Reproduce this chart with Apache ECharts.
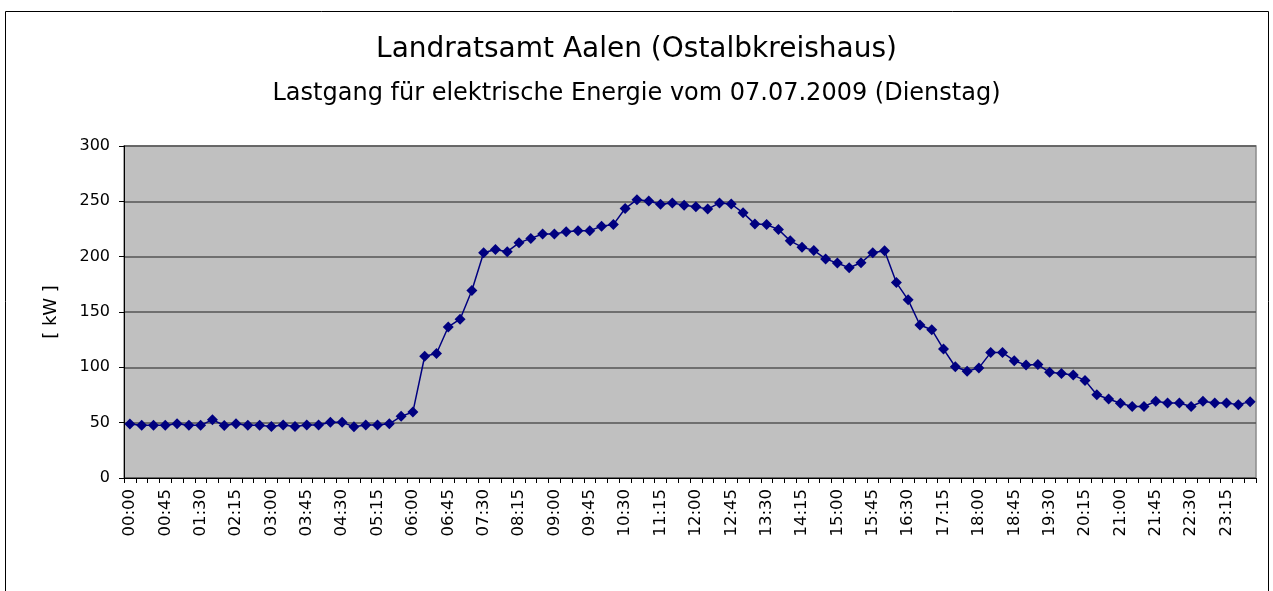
<!DOCTYPE html>
<html>
<head>
<meta charset="utf-8">
<script src="https://cdn.jsdelivr.net/npm/echarts@6/dist/echarts.min.js"></script>
<style>
  html, body { margin: 0; padding: 0; background: #fff; }
  #chart { width: 1273px; height: 591px; }
</style>
</head>
<body>
<div id="chart"></div>
<script>
// 15-min intervals, 07.07.2009
var times = [
  '00:00','00:15','00:30','00:45','01:00','01:15','01:30','01:45',
  '02:00','02:15','02:30','02:45','03:00','03:15','03:30','03:45',
  '04:00','04:15','04:30','04:45','05:00','05:15','05:30','05:45',
  '06:00','06:15','06:30','06:45','07:00','07:15','07:30','07:45',
  '08:00','08:15','08:30','08:45','09:00','09:15','09:30','09:45',
  '10:00','10:15','10:30','10:45','11:00','11:15','11:30','11:45',
  '12:00','12:15','12:30','12:45','13:00','13:15','13:30','13:45',
  '14:00','14:15','14:30','14:45','15:00','15:15','15:30','15:45',
  '16:00','16:15','16:30','16:45','17:00','17:15','17:30','17:45',
  '18:00','18:15','18:30','18:45','19:00','19:15','19:30','19:45',
  '20:00','20:15','20:30','20:45','21:00','21:15','21:30','21:45',
  '22:00','22:15','22:30','22:45','23:00','23:15','23:30','23:45'
];

// Leistung in kW
var kw = [
  48.8, 47.6, 47.6, 47.6, 49, 47.6, 47.6, 52.7, 47.4, 49, 47.6, 47.6,
  46.5, 47.8, 46.5, 47.8, 47.8, 50.3, 50.3, 46.3, 47.8, 47.8, 49, 55.7,
  59.7, 110, 112.5, 136.5, 143.5, 169.5, 203.5, 206.5, 204.5, 212.5, 216.5, 220.5,
  220.5, 222.5, 223.5, 223.5, 227.5, 229, 243.5, 251.5, 250.3, 247.3, 248.6, 246.4,
  245, 243, 248.6, 247.6, 239.6, 229.6, 229, 224.6, 214.3, 208.6, 205.6, 198,
  194.2, 190, 194.5, 203.6, 205.3, 176.6, 161, 138.3, 134, 116.5, 100.5, 96.5,
  99.5, 113.3, 113.3, 106, 102, 102.5, 95.5, 94.5, 93, 88.2, 75.2, 71.4,
  67.6, 64.6, 64.6, 69.3, 67.8, 67.8, 64.6, 69.3, 67.8, 67.8, 66.3, 69
];

var yTicks = [0, 50, 100, 150, 200, 250, 300];

var chart = echarts.init(document.getElementById('chart'), null, { renderer: 'canvas' });

var option = {
  backgroundColor: '#fff',
  animation: false,
  title: [{
    text: 'Landratsamt Aalen (Ostalbkreishaus)',
    left: 'center',
    top: 31,
    textStyle: { fontFamily: 'DejaVu Sans', fontWeight: 'normal', fontSize: 28, color: '#000' }
  }, {
    text: 'Lastgang für elektrische Energie vom 07.07.2009 (Dienstag)',
    left: 'center',
    top: 77,
    textStyle: { fontFamily: 'DejaVu Sans', fontWeight: 'normal', fontSize: 24, color: '#000' }
  }],
  graphic: [{
    type: 'rect',
    shape: { x: 5.5, y: 11.5, width: 1263, height: 600 },
    style: { fill: 'none', stroke: '#000', lineWidth: 1 },
    silent: true
  }],
  grid: {
    left: 124,
    right: 17,
    top: 146,
    bottom: 113,
    show: true,
    backgroundColor: '#c0c0c0',
    borderColor: '#8c8c8c',
    borderWidth: 1.5
  },
  xAxis: {
    type: 'category',
    data: times,
    boundaryGap: true,
    axisLine: { lineStyle: { color: '#000', width: 1 } },
    axisTick: { show: true, interval: 0, length: 5, lineStyle: { color: '#000' } },
    axisLabel: {
      interval: 2,
      rotate: 90,
      fontFamily: 'DejaVu Sans',
      fontSize: 16.5,
      color: '#000',
      margin: 11
    },
    splitLine: { show: false }
  },
  yAxis: {
    type: 'value',
    min: yTicks[0],
    max: yTicks[yTicks.length - 1],
    interval: 50,
    name: '[ kW ]',
    nameLocation: 'middle',
    nameRotate: 90,
    nameGap: 64,
    nameTextStyle: { fontFamily: 'DejaVu Sans', fontSize: 18, color: '#000' },
    axisLine: { show: true, lineStyle: { color: '#000', width: 1 } },
    axisTick: { show: true, length: 5, lineStyle: { color: '#000' } },
    axisLabel: { fontFamily: 'DejaVu Sans', fontSize: 16, color: '#000', margin: 14 },
    splitLine: { show: true, lineStyle: { color: '#555', width: 1.5 } }
  },
  series: [{
    type: 'line',
    data: kw,
    showAllSymbol: true,
    symbol: 'diamond',
    symbolSize: 11,
    lineStyle: { color: '#000080', width: 1.5 },
    itemStyle: { color: '#000080' }
  }]
};

chart.setOption(option);
</script>
</body>
</html>
